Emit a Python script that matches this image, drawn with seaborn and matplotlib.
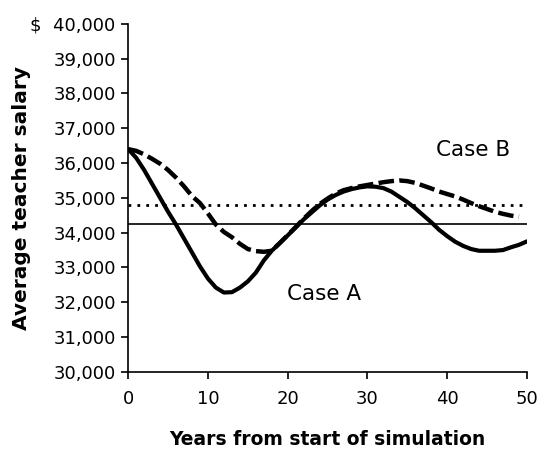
import matplotlib
matplotlib.use("Agg")
import matplotlib.pyplot as plt
from matplotlib.ticker import FuncFormatter
import seaborn as sns

# values
years_a = list(range(0, 51))
case_a = [36400, 36150, 35800, 35400, 35000, 34600, 34230, 33830, 33430, 33030,
          32680, 32420, 32280, 32290, 32420, 32600, 32850, 33200, 33480, 33700,
          33920, 34150, 34380, 34580, 34780, 34950, 35080, 35180, 35250, 35300,
          35330, 35320, 35280, 35180, 35030, 34880, 34700, 34500, 34300, 34080,
          33900, 33740, 33620, 33530, 33480, 33480, 33480, 33500, 33580, 33650,
          33750]

years_b = list(range(0, 50))
case_b = [36400, 36350, 36250, 36120, 35980, 35800, 35580, 35330, 35050, 34850,
          34550, 34230, 34020, 33870, 33680, 33530, 33470, 33450, 33480, 33700,
          33930, 34160, 34400, 34620, 34820, 34980, 35120, 35220, 35280, 35330,
          35370, 35410, 35450, 35480, 35500, 35480, 35430, 35350, 35270, 35180,
          35110, 35040, 34950, 34850, 34760, 34680, 34600, 34540, 34490, 34460]

avg_a = 34250
avg_b = 34800

sns.set_style("ticks")
plt.rcParams['font.family'] = ['DejaVu Sans']
plt.rcParams['text.color'] = 'black'
plt.rcParams['axes.labelcolor'] = 'black'

fig = plt.figure(figsize=(5.41, 4.58), dpi=100)
ax = fig.add_axes([0.237, 0.188, 0.737, 0.76])

# average levels
ax.hlines(avg_a, 0, 50, color='black', lw=1.2)
ax.hlines(avg_b, 0, 50, color='black', lw=2, linestyles=[(0, (1, 2.2))])

# simulated trajectories
sns.lineplot(x=years_a, y=case_a, color='black', lw=3, ax=ax)
line_b = sns.lineplot(x=years_b, y=case_b, color='black', lw=3.2, ax=ax).lines[-1]
line_b.set_dashes((3.5, 1.2))

ax.text(24.6, 32250, "Case A", fontsize=15.5, ha='center', va='center', color='black')
ax.text(43.3, 36380, "Case B", fontsize=15.5, ha='center', va='center', color='black')

ax.set_xlim(0, 50)
ax.set_ylim(30000, 40000)
ax.set_xticks(range(0, 51, 10))
ax.set_yticks(range(30000, 40001, 1000))


def fmt_salary(v, pos):
    s = f"{int(v):,}"
    return "$  " + s if v >= 40000 else s


ax.yaxis.set_major_formatter(FuncFormatter(fmt_salary))
ax.tick_params(axis='y', labelsize=13, length=5, width=1.2, pad=4, colors='black')
ax.tick_params(axis='x', labelsize=13, length=5, width=1.2, pad=8, colors='black')

for side in ['left', 'bottom']:
    ax.spines[side].set_linewidth(1.2)
    ax.spines[side].set_color('black')
sns.despine(ax=ax)

ax.set_xlabel("Years from start of simulation", fontsize=13.5, fontweight='bold', labelpad=16)
ax.set_ylabel("Average teacher salary", fontsize=14.5, fontweight='bold')
ax.yaxis.set_label_coords(-0.243, 0.5)

plt.savefig("out.png", dpi=100)
